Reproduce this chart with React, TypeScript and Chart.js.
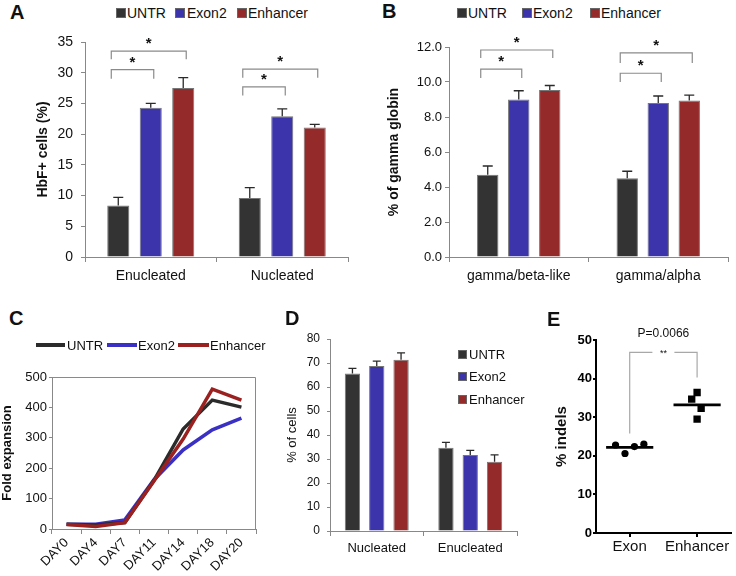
import React, { useEffect, useRef } from 'react';
import { Chart, registerables } from 'chart.js';
Chart.register(...registerables);

const FONT = '"Liberation Sans", Arial, Helvetica, sans-serif';

// Series
const seriesNames = ['UNTR', 'Exon2', 'Enhancer'];
const barColors = ['#333333', '#3b34ab', '#952a2a'];
const lineColors = ['#2b2b2b', '#3a30c4', '#9b2020'];

// Panel A
const catsA = ['Enucleated', 'Nucleated'];
const untrA = [8.4, 9.6];
const exon2A = [24.3, 22.9];
const enhA = [27.5, 21.1];
const untrErrA = [9.7, 11.3];
const exon2ErrA = [25.0, 24.1];
const enhErrA = [29.2, 21.6];
const bracketCatA = [0, 0, 1, 1];
const bracketToA = [2, 1, 2, 1];
const bracketTopA = [33.5, 30.5, 30.6, 27.7];
const bracketLegA = [32.2, 29.0, 29.2, 26.3];

// Panel B
const catsB = ['gamma/beta-like', 'gamma/alpha'];
const untrB = [4.7, 4.5];
const exon2B = [9.0, 8.8];
const enhB = [9.55, 8.95];
const untrErrB = [5.2, 4.9];
const exon2ErrB = [9.5, 9.2];
const enhErrB = [9.8, 9.25];
const bracketCatB = [0, 0, 1, 1];
const bracketToB = [2, 1, 2, 1];
const bracketTopB = [11.83, 10.74, 11.66, 10.5];
const bracketLegB = [11.37, 10.23, 11.09, 10.0];

// Panel C
const daysC = ['DAY0', 'DAY4', 'DAY7', 'DAY11', 'DAY14', 'DAY18', 'DAY20'];
const untrC = [16, 13, 21, 160, 329, 424, 401];
const exon2C = [16, 16, 30, 162, 260, 326, 365];
const enhC = [15, 8, 21, 158, 296, 460, 424];

// Panel D
const catsD = ['Nucleated', 'Enucleated'];
const untrD = [65.6, 34.7];
const exon2D = [68.8, 31.7];
const enhD = [71.4, 28.9];
const untrErrD = [67.8, 36.9];
const exon2ErrD = [70.8, 33.6];
const enhErrD = [74.2, 31.7];

// Panel E
const catsE = ['Exon', 'Enhancer'];
const catPosE = [0.5, 1.5];
const exonXE = [0.29, 0.43, 0.57, 0.71];
const exonYE = [22.8, 20.6, 22.4, 23.0];
const enhXE = [1.5, 1.42, 1.56, 1.5];
const enhYE = [36.4, 34.7, 32.3, 29.5];
const meanE = [22.2, 33.2];
const bracketTopE = 46.8;
const bracketLegE = [25.8, 40.3];
const pValueE = 'P=0.0066';

function errorBarPlugin(errs: number[][], cap: number) {
  return {
    id: 'errbars',
    afterDatasetsDraw(chart: any) {
      const ctx = chart.ctx;
      const y = chart.scales.y;
      ctx.save();
      ctx.strokeStyle = '#2a2a2a';
      ctx.lineWidth = 1.3;
      errs.forEach((arr, di) => {
        const meta = chart.getDatasetMeta(di);
        arr.forEach((v, i) => {
          const el: any = meta.data[i];
          const top = y.getPixelForValue(v);
          ctx.beginPath();
          ctx.moveTo(el.x, el.y);
          ctx.lineTo(el.x, top);
          ctx.moveTo(el.x - cap, top);
          ctx.lineTo(el.x + cap, top);
          ctx.stroke();
        });
      });
      ctx.restore();
    },
  };
}

function bracketPlugin(cats: number[], tos: number[], tops: number[], legs: number[]) {
  return {
    id: 'brackets',
    afterDatasetsDraw(chart: any) {
      const ctx = chart.ctx;
      const y = chart.scales.y;
      ctx.save();
      ctx.strokeStyle = '#8a8a8a';
      ctx.lineWidth = 1.2;
      ctx.fillStyle = '#111';
      ctx.font = `bold 15px ${FONT}`;
      ctx.textAlign = 'center';
      ctx.textBaseline = 'alphabetic';
      cats.forEach((c, k) => {
        const a: any = chart.getDatasetMeta(0).data[c];
        const b: any = chart.getDatasetMeta(tos[k]).data[c];
        const x1 = a.x - 7;
        const x2 = b.x + 3;
        const yt = y.getPixelForValue(tops[k]);
        const yl = y.getPixelForValue(legs[k]);
        ctx.beginPath();
        ctx.moveTo(x1, yl);
        ctx.lineTo(x1, yt);
        ctx.lineTo(x2, yt);
        ctx.lineTo(x2, yl);
        ctx.stroke();
        ctx.fillText('*', (x1 + x2) / 2, yt - 3);
      });
      ctx.restore();
    },
  };
}

const framePlugin = {
  id: 'frame',
  afterDraw(chart: any) {
    const { ctx, chartArea } = chart;
    ctx.save();
    ctx.strokeStyle = '#8a8a8a';
    ctx.lineWidth = 1;
    ctx.beginPath();
    ctx.moveTo(chartArea.left, chartArea.top + 0.5);
    ctx.lineTo(chartArea.right - 0.5, chartArea.top + 0.5);
    ctx.lineTo(chartArea.right - 0.5, chartArea.bottom);
    ctx.stroke();
    ctx.restore();
  },
};

const sigPluginE = {
  id: 'sigE',
  afterDraw(chart: any) {
    const ctx = chart.ctx;
    const x = chart.scales.x;
    const y = chart.scales.y;
    const x1 = x.getPixelForValue(catPosE[0]);
    const x2 = x.getPixelForValue(catPosE[1]);
    const yt = y.getPixelForValue(bracketTopE);
    const yl1 = y.getPixelForValue(bracketLegE[0]);
    const yl2 = y.getPixelForValue(bracketLegE[1]);
    const mid = (x1 + x2) / 2;
    ctx.save();
    ctx.strokeStyle = '#a8a8a8';
    ctx.lineWidth = 1.2;
    ctx.beginPath();
    ctx.moveTo(x1, yl1);
    ctx.lineTo(x1, yt);
    ctx.lineTo(mid - 11, yt);
    ctx.moveTo(mid + 11, yt);
    ctx.lineTo(x2, yt);
    ctx.lineTo(x2, yl2);
    ctx.stroke();
    ctx.fillStyle = '#111';
    ctx.textAlign = 'center';
    ctx.textBaseline = 'middle';
    ctx.font = `9px ${FONT}`;
    ctx.fillText('**', mid, yt + 1);
    ctx.font = `12px ${FONT}`;
    ctx.fillText(pValueE, mid, yt - 19);
    ctx.restore();
  },
};

function barDatasets(vals: number[][]) {
  return vals.map((d, i) => ({
    label: seriesNames[i],
    data: d,
    backgroundColor: barColors[i],
    borderColor: '#777777',
    borderWidth: 1,
  }));
}

function barOptions(o: any) {
  return {
    responsive: false,
    animation: false,
    layout: { padding: o.padding },
    plugins: { legend: { display: false }, tooltip: { enabled: false } },
    datasets: { bar: { categoryPercentage: o.catPct, barPercentage: o.barPct } },
    scales: {
      x: {
        grid: { display: true, drawOnChartArea: false, drawTicks: true, tickLength: 5, color: '#888' },
        border: { color: '#888' },
        ticks: { font: { family: FONT, size: o.xFont }, color: '#111', padding: o.xPad },
        afterFit: (s: any) => { s.height = o.xH; },
      },
      y: {
        min: 0,
        max: o.max,
        ticks: {
          stepSize: o.step,
          font: { family: FONT, size: o.yFont },
          color: '#111',
          padding: o.yPad,
          callback: o.yCb,
        },
        grid: { drawOnChartArea: false, tickLength: o.yTick, color: '#888' },
        border: { color: '#888' },
        title: {
          display: true,
          text: o.title,
          font: { family: FONT, size: o.titleSize, weight: o.titleWeight },
          color: '#111',
          padding: { top: o.titlePad, bottom: 0 },
        },
        afterFit: (s: any) => { s.width = o.yW; },
      },
    },
  };
}

function Text({ x, y, size, bold, children, color }: any) {
  return (
    <div
      style={{
        position: 'absolute',
        left: x,
        top: y - size / 2,
        fontFamily: FONT,
        fontSize: size,
        lineHeight: `${size}px`,
        fontWeight: bold ? 'bold' : 'normal',
        color: color || '#111',
        whiteSpace: 'nowrap',
      }}
    >
      {children}
    </div>
  );
}

function Box({ x, y, w, h, color }: any) {
  return (
    <div
      style={{
        position: 'absolute',
        left: x,
        top: y,
        width: w,
        height: h,
        background: color,
        boxSizing: 'border-box',
        border: '1px solid #666',
      }}
    />
  );
}

function Stroke({ x, y, w, color }: any) {
  return <div style={{ position: 'absolute', left: x, top: y - 2, width: w, height: 4, background: color }} />;
}

export default function App() {
  const refA = useRef<HTMLCanvasElement>(null);
  const refB = useRef<HTMLCanvasElement>(null);
  const refC = useRef<HTMLCanvasElement>(null);
  const refD = useRef<HTMLCanvasElement>(null);
  const refE = useRef<HTMLCanvasElement>(null);

  useEffect(() => {
    const charts: Chart[] = [];

    charts.push(
      new Chart(refA.current!, {
        type: 'bar',
        data: { labels: catsA, datasets: barDatasets([untrA, exon2A, enhA]) as any },
        options: barOptions({
          padding: { top: 17, right: 22, bottom: 0, left: 0 },
          catPct: 0.741, barPct: 0.68, xFont: 14, xPad: 6, xH: 33,
          max: 35, step: 5, yFont: 14, yPad: 8, yTick: 4, yW: 85,
          title: 'HbF+ cells (%)', titleSize: 14, titleWeight: 'bold', titlePad: 35,
        }) as any,
        plugins: [
          errorBarPlugin([untrErrA, exon2ErrA, enhErrA], 5),
          bracketPlugin(bracketCatA, bracketToA, bracketTopA, bracketLegA),
        ],
      })
    );

    charts.push(
      new Chart(refB.current!, {
        type: 'bar',
        data: { labels: catsB, datasets: barDatasets([untrB, exon2B, enhB]) as any },
        options: barOptions({
          padding: { top: 22, right: 8, bottom: 0, left: 0 },
          catPct: 0.667, barPct: 0.69, xFont: 14, xPad: 6, xH: 33,
          max: 12, step: 2, yFont: 13, yPad: 3, yTick: 4, yW: 79,
          yCb: (v: any) => Number(v).toFixed(1),
          title: '% of gamma globin', titleSize: 14, titleWeight: 'bold', titlePad: 16,
        }) as any,
        plugins: [
          errorBarPlugin([untrErrB, exon2ErrB, enhErrB], 5),
          bracketPlugin(bracketCatB, bracketToB, bracketTopB, bracketLegB),
        ],
      })
    );

    charts.push(
      new Chart(refC.current!, {
        type: 'line',
        data: {
          labels: daysC,
          datasets: [untrC, exon2C, enhC].map((d, i) => ({
            label: seriesNames[i],
            data: d,
            borderColor: lineColors[i],
            backgroundColor: lineColors[i],
            borderWidth: 3.5,
            pointRadius: 0,
            tension: 0,
            order: [1, 2, 0][i],
          })),
        },
        options: {
          responsive: false,
          animation: false,
          layout: { padding: { top: 17, right: 29, bottom: 0, left: 0 } },
          plugins: { legend: { display: false }, tooltip: { enabled: false } },
          scales: {
            x: {
              offset: true,
              grid: { offset: true, drawOnChartArea: false, tickLength: 5, color: '#888' },
              border: { color: '#888' },
              ticks: { minRotation: 45, maxRotation: 45, autoSkip: false, font: { family: FONT, size: 13 }, color: '#111', padding: 1 },
              afterFit: (s: any) => { s.height = 47; },
            },
            y: {
              min: 0,
              max: 500,
              ticks: { stepSize: 100, font: { family: FONT, size: 13 }, color: '#111', padding: 2 },
              grid: { drawOnChartArea: false, tickLength: 3, color: '#888' },
              border: { color: '#888' },
              title: {
                display: true,
                text: 'Fold expansion',
                font: { family: FONT, size: 13, weight: 'bold' },
                color: '#111',
                padding: { top: 0, bottom: 0 },
              },
              afterFit: (s: any) => { s.width = 52; },
            },
          },
        } as any,
        plugins: [framePlugin],
      })
    );

    charts.push(
      new Chart(refD.current!, {
        type: 'bar',
        data: { labels: catsD, datasets: barDatasets([untrD, exon2D, enhD]) as any },
        options: barOptions({
          padding: { top: 19, right: 18, bottom: 0, left: 0 },
          catPct: 0.78, barPct: 0.63, xFont: 13, xPad: 5, xH: 45,
          max: 80, step: 10, yFont: 12, yPad: 7, yTick: 3, yW: 50,
          title: '% of cells', titleSize: 13, titleWeight: 'normal', titlePad: 5,
        }) as any,
        plugins: [errorBarPlugin([untrErrD, exon2ErrD, enhErrD], 4)],
      })
    );

    charts.push(
      new Chart(refE.current!, {
        type: 'scatter',
        data: {
          datasets: [
            {
              label: catsE[0],
              data: exonXE.map((x, i) => ({ x, y: exonYE[i] })),
              pointStyle: 'circle',
              pointRadius: 3.6,
              borderWidth: 0,
              backgroundColor: '#000',
            },
            {
              label: catsE[1],
              data: enhXE.map((x, i) => ({ x, y: enhYE[i] })),
              pointStyle: 'rect',
              pointRadius: 5.2,
              borderWidth: 0,
              backgroundColor: '#000',
            },
            ...meanE.map((m, i) => ({
              label: 'mean ' + catsE[i],
              data: [
                { x: catPosE[i] - 0.35, y: m },
                { x: catPosE[i] + 0.35, y: m },
              ],
              showLine: true,
              borderColor: '#000',
              borderWidth: 2.7,
              pointRadius: 0,
            })),
          ],
        },
        options: {
          responsive: false,
          animation: false,
          layout: { padding: { top: 20, right: 0, bottom: 0, left: 0 } },
          plugins: { legend: { display: false }, tooltip: { enabled: false } },
          scales: {
            x: {
              type: 'linear',
              min: 0,
              max: 2,
              afterBuildTicks: (s: any) => { s.ticks = catPosE.map((v) => ({ value: v })); },
              ticks: {
                callback: (v: any) => catsE[catPosE.indexOf(Number(v))],
                font: { family: FONT, size: 15 },
                color: '#111',
                padding: 1,
              },
              grid: { drawOnChartArea: false, tickLength: 4, lineWidth: 2, color: '#000' },
              border: { width: 2, color: '#000' },
              afterFit: (s: any) => { s.height = 43; },
            },
            y: {
              min: 0,
              max: 50,
              ticks: { stepSize: 10, font: { family: FONT, size: 13, weight: 'bold' }, color: '#000', padding: 1 },
              grid: { drawOnChartArea: false, tickLength: 3, lineWidth: 2, color: '#000' },
              border: { width: 2, color: '#000' },
              title: {
                display: true,
                text: '% indels',
                font: { family: FONT, size: 15, weight: 'bold' },
                color: '#111',
                padding: { top: 13, bottom: 0 },
              },
              afterFit: (s: any) => { s.width = 56; },
            },
          },
        } as any,
        plugins: [sigPluginE],
      })
    );

    return () => charts.forEach((c) => c.destroy());
  }, []);

  const cv = (ref: any, x: number, y: number, w: number, h: number) => (
    <canvas ref={ref} width={w} height={h} style={{ position: 'absolute', left: x, top: y, width: w, height: h }} />
  );

  return (
    <div style={{ position: 'absolute', left: 0, top: 0, width: 736, height: 576, background: '#fff', overflow: 'hidden' }}>
      {cv(refA, 0, 25, 370, 265)}
      {cv(refB, 370, 25, 366, 265)}
      {cv(refC, 0, 360, 285, 216)}
      {cv(refD, 280, 320, 255, 256)}
      {cv(refE, 540, 320, 196, 256)}

      <Text x={10} y={12} size={20} bold>A</Text>
      <Text x={382} y={11} size={20} bold>B</Text>
      <Text x={9} y={318} size={20} bold>C</Text>
      <Text x={285} y={318} size={20} bold>D</Text>
      <Text x={547} y={319} size={20} bold>E</Text>

      {/* Legend A */}
      <Box x={116} y={8} w={10} h={10} color={barColors[0]} />
      <Text x={127} y={13} size={14}>{seriesNames[0]}</Text>
      <Box x={175} y={8} w={10} h={10} color={barColors[1]} />
      <Text x={187} y={13} size={14}>{seriesNames[1]}</Text>
      <Box x={237} y={8} w={10} h={10} color={barColors[2]} />
      <Text x={248} y={13} size={14}>{seriesNames[2]}</Text>

      {/* Legend B */}
      <Box x={457} y={8} w={10} h={10} color={barColors[0]} />
      <Text x={468} y={13} size={14}>{seriesNames[0]}</Text>
      <Box x={522} y={8} w={10} h={10} color={barColors[1]} />
      <Text x={533} y={13} size={14}>{seriesNames[1]}</Text>
      <Box x={590} y={8} w={10} h={10} color={barColors[2]} />
      <Text x={601} y={13} size={14}>{seriesNames[2]}</Text>

      {/* Legend C */}
      <Stroke x={36} y={345} w={29} color={lineColors[0]} />
      <Text x={67} y={345} size={13}>{seriesNames[0]}</Text>
      <Stroke x={107} y={345} w={30} color={lineColors[1]} />
      <Text x={138} y={345} size={13}>{seriesNames[1]}</Text>
      <Stroke x={178} y={345} w={31} color={lineColors[2]} />
      <Text x={210} y={345} size={13}>{seriesNames[2]}</Text>

      {/* Legend D */}
      <Box x={458} y={350} w={9} h={9} color={barColors[0]} />
      <Text x={469} y={354} size={13}>{seriesNames[0]}</Text>
      <Box x={458} y={372} w={9} h={9} color={barColors[1]} />
      <Text x={469} y={376} size={13}>{seriesNames[1]}</Text>
      <Box x={458} y={395} w={9} h={9} color={barColors[2]} />
      <Text x={469} y={399} size={13}>{seriesNames[2]}</Text>
    </div>
  );
}
